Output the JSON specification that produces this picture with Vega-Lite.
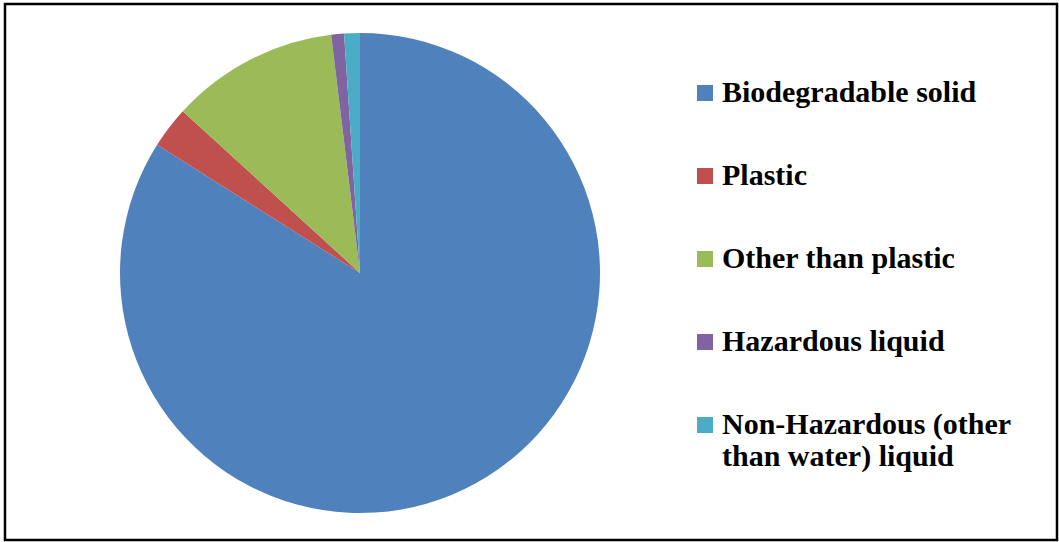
{
  "$schema": "https://vega.github.io/schema/vega-lite/v6.json",
  "width": 1052,
  "height": 536,
  "padding": {"left": 5, "top": 4, "right": 2, "bottom": 2},
  "background": "white",
  "view": {"stroke": "#000000", "strokeWidth": 2.5, "fill": "white"},
  "data": {"values": [
    {"category": "Biodegradable solid", "share": 83.97, "rank": 1},
    {"category": "Plastic", "share": 2.81, "rank": 2},
    {"category": "Other than plastic", "share": 11.3, "rank": 3},
    {"category": "Hazardous liquid", "share": 0.86, "rank": 4},
    {"category": "Non-Hazardous (other than water) liquid", "share": 1.06, "rank": 5}
  ]},
  "mark": {"type": "arc", "radius": 240, "x": 355, "y": 269},
  "encoding": {
    "theta": {"field": "share", "type": "quantitative", "stack": true},
    "order": {"field": "rank", "type": "quantitative"},
    "color": {
      "field": "category",
      "type": "nominal",
      "sort": ["Biodegradable solid", "Plastic", "Other than plastic", "Hazardous liquid", "Non-Hazardous (other than water) liquid"],
      "scale": {
        "domain": ["Biodegradable solid", "Plastic", "Other than plastic", "Hazardous liquid", "Non-Hazardous (other than water) liquid"],
        "range": ["#4F81BD", "#C0504D", "#9BBB59", "#8064A2", "#4BACC6"]
      },
      "legend": {
        "title": null,
        "orient": "none",
        "legendX": 685,
        "legendY": 74,
        "symbolType": "square",
        "symbolSize": 256,
        "symbolStrokeWidth": 0,
        "labelFont": "Liberation Serif",
        "labelFontWeight": "bold",
        "labelFontSize": 30,
        "labelColor": "#000000",
        "labelOffset": 2,
        "labelLimit": 400,
        "rowPadding": 53,
        "labelExpr": "datum.label == 'Non-Hazardous (other than water) liquid' ? ['Non-Hazardous (other', 'than water) liquid'] : datum.label"
      }
    }
  }
}
